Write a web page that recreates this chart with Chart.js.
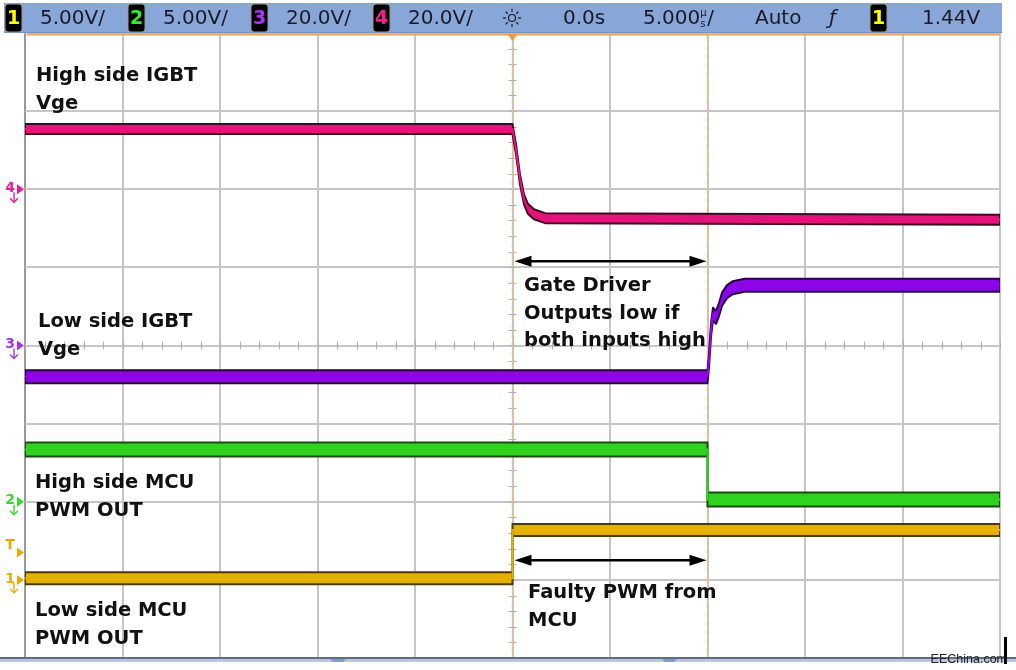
<!DOCTYPE html>
<html><head><meta charset="utf-8">
<script src="https://cdn.jsdelivr.net/npm/chart.js@4.4.1/dist/chart.umd.min.js"></script>
<style>html,body{margin:0;padding:0;background:#fff;}canvas{display:block;}</style>
</head><body>
<canvas id="c" width="1016" height="670"></canvas>
<script>
// ---- data (time in µs, amplitude in screen divisions from centre) ----
const ch4Time = [-25, 0, 0.18, 0.38, 0.59, 0.79, 1.1, 1.67, 25];
const ch4Vals = [2.77, 2.77, 2.51, 2.13, 1.87, 1.75, 1.68, 1.63, 1.61];
const ch3Time = [-25, 10, 10.08, 10.18, 10.28, 10.44, 10.59, 10.74, 11.0, 11.3, 11.9, 25];
const ch3Vals = [-0.40, -0.40, -0.18, 0.20, 0.40, 0.36, 0.46, 0.59, 0.69, 0.74, 0.77, 0.77];
const ch2Time = [-25, 10, 10, 25];
const ch2Vals = [-1.33, -1.33, -1.97, -1.97];
const ch1Time = [-25, 0, 0, 25];
const ch1Vals = [-2.98, -2.98, -2.36, -2.36];
const cursorTimes = [0, 10];
const xTickStep = 5;   // 5.000 µs/div
const headerItems = [
  {badge:'1', color:'#ffff00', text:'5.00V/'},
  {badge:'2', color:'#33ee22', text:'5.00V/'},
  {badge:'3', color:'#b030ff', text:'20.0V/'},
  {badge:'4', color:'#ff1a8c', text:'20.0V/'}
];
const annotations = [
  {lines:['High side IGBT','Vge'], x:36, y:81},
  {lines:['Low side IGBT','Vge'], x:38, y:327},
  {lines:['High side MCU','PWM OUT'], x:35, y:488},
  {lines:['Low side MCU','PWM OUT'], x:35, y:616},
  {lines:['Gate Driver','Outputs low if','both inputs high'], x:524, y:291},
  {lines:['Faulty PWM from','MCU'], x:528, y:598}
];
const arrowsDiv = [1.08, -2.75];
const chanMarkers = [
  {label:'4', color:'#f0199a', div:2.0, ground:true},
  {label:'3', color:'#a833ee', div:0.0, ground:true},
  {label:'2', color:'#33dd22', div:-2.0, ground:true},
  {label:'T', color:'#f0a800', div:-2.65, ground:false},
  {label:'1', color:'#f0a800', div:-3.0, ground:true}
];

function pts(t, v){ return t.map((x,i)=>({x:x, y:v[i]})); }

const FONT = '"DejaVu Sans", "Liberation Sans", Arial, sans-serif';

// draws the noise band of each trace (vertical thickness) around the library-computed points
const bandPlugin = {
  id:'band',
  beforeDatasetDraw(chart, args){
    const ds = chart.data.datasets[args.index];
    if(!ds.bandHalf) return;
    const ctx = chart.ctx, a = chart.chartArea, h = ds.bandHalf, P = args.meta.data;
    ctx.save();
    ctx.beginPath(); ctx.rect(a.left, a.top, a.right-a.left, a.bottom-a.top); ctx.clip();
    ctx.beginPath();
    P.forEach((p,i)=> i?ctx.lineTo(p.x,p.y-h):ctx.moveTo(p.x,p.y-h));
    for(let i=P.length-1;i>=0;i--) ctx.lineTo(P[i].x, P[i].y+h);
    ctx.closePath();
    ctx.fillStyle = ds.borderColor; ctx.fill();
    ctx.lineWidth = 2; ctx.strokeStyle = ds.edgeColor; ctx.lineJoin='round'; ctx.stroke();
    ctx.restore();
  }
};

const gridExtras = {
  id:'gridExtras',
  beforeDatasetsDraw(chart){
    const ctx = chart.ctx, xs = chart.scales.x, ys = chart.scales.y, a = chart.chartArea;
    ctx.save();
    ctx.strokeStyle = '#b0b0b0'; ctx.lineWidth = 1;
    const y0 = ys.getPixelForValue(0), x0 = xs.getPixelForValue(0);
    ctx.beginPath();
    for(let t=-25; t<=25; t+=1){ const px = Math.round(xs.getPixelForValue(t))+0.5; ctx.moveTo(px, y0-4); ctx.lineTo(px, y0+4); }
    for(let d=-4; d<=4; d+=0.2){ const py = Math.round(ys.getPixelForValue(d))+0.5; ctx.moveTo(x0-4, py); ctx.lineTo(x0+4, py); }
    ctx.stroke();
    ctx.strokeStyle = '#f2a35c'; ctx.lineWidth = 2;
    ctx.beginPath(); ctx.moveTo(a.left+2, a.top+1.5); ctx.lineTo(a.right, a.top+1.5); ctx.stroke();
    ctx.strokeStyle = '#f6b87c'; ctx.lineWidth = 1.5; ctx.setLineDash([5,4]);
    cursorTimes.forEach(t=>{ const px = xs.getPixelForValue(t); ctx.beginPath(); ctx.moveTo(px, a.top+3); ctx.lineTo(px, a.bottom); ctx.stroke(); });
    ctx.setLineDash([]);
    const tx = xs.getPixelForValue(0);
    ctx.fillStyle = '#f29a3a';
    ctx.beginPath(); ctx.moveTo(tx-5, a.top+1); ctx.lineTo(tx+5, a.top+1); ctx.lineTo(tx, a.top+8); ctx.closePath(); ctx.fill();
    ctx.restore();
  }
};

function roundRect(ctx,x,y,w,h,r){ ctx.beginPath(); ctx.moveTo(x+r,y); ctx.lineTo(x+w-r,y); ctx.quadraticCurveTo(x+w,y,x+w,y+r); ctx.lineTo(x+w,y+h-r); ctx.quadraticCurveTo(x+w,y+h,x+w-r,y+h); ctx.lineTo(x+r,y+h); ctx.quadraticCurveTo(x,y+h,x,y+h-r); ctx.lineTo(x,y+r); ctx.quadraticCurveTo(x,y,x+r,y); ctx.closePath(); }

function badge(ctx, x, label, color){
  roundRect(ctx, x, 4, 17, 28, 3);
  ctx.fillStyle = '#000'; ctx.fill();
  ctx.strokeStyle = '#9a9a9a'; ctx.lineWidth = 1; ctx.stroke();
  ctx.fillStyle = color; ctx.font = 'bold 19px ' + FONT;
  ctx.textAlign = 'center'; ctx.textBaseline = 'middle';
  ctx.fillText(label, x+8.5, 19);
  ctx.textAlign = 'left';
}

const overlay = {
  id:'overlay',
  afterDraw(chart){
    const ctx = chart.ctx, xs = chart.scales.x, ys = chart.scales.y, a = chart.chartArea;
    ctx.save();
    ctx.fillStyle = '#88a6d8'; ctx.fillRect(4, 3, 998, 30);
    ctx.fillStyle = '#7391c4'; ctx.fillRect(4, 32, 998, 1);
    const badgeX = [5, 128, 251, 373], textX = [40, 163, 286, 408];
    headerItems.forEach((h,i)=>{
      badge(ctx, badgeX[i], h.badge, h.color);
      ctx.fillStyle = '#1a1a26'; ctx.font = '20px ' + FONT; ctx.textBaseline = 'middle';
      ctx.fillText(h.text, textX[i], 19);
    });
    ctx.strokeStyle = '#1a1a26'; ctx.lineWidth = 1.2;
    ctx.beginPath(); ctx.arc(512, 18, 3.5, 0, Math.PI*2); ctx.stroke();
    for(let k=0;k<8;k++){ const ang=k*Math.PI/4; ctx.beginPath(); ctx.moveTo(512+6*Math.cos(ang),18+6*Math.sin(ang)); ctx.lineTo(512+9*Math.cos(ang),18+9*Math.sin(ang)); ctx.stroke(); }
    ctx.fillStyle = '#1a1a26'; ctx.font = '20px ' + FONT; ctx.textBaseline = 'middle';
    ctx.fillText('0.0s', 563, 19);
    ctx.fillText('5.000', 643, 19);
    const w5 = ctx.measureText('5.000').width;
    ctx.font = '10px ' + FONT; ctx.fillText('µ', 643+w5, 13); ctx.fillText('s', 643+w5, 24);
    ctx.font = '20px ' + FONT; ctx.fillText('/', 643+w5+7, 19);
    ctx.fillText('Auto', 755, 19);
    ctx.font = 'italic 20px ' + FONT; ctx.fillText('ƒ', 829, 19);
    badge(ctx, 870, '1', '#ffff00');
    ctx.fillStyle = '#1a1a26'; ctx.font = '20px ' + FONT; ctx.textBaseline = 'middle';
    ctx.fillText('1.44V', 922, 19);

    ctx.fillStyle = '#5d6d85'; ctx.fillRect(0, a.bottom-1, 1016, 2);
    ctx.fillStyle = '#bcc6d8'; ctx.fillRect(0, a.bottom+1, 1016, 3);
    ctx.fillStyle = '#7d9dd2';
    [[330,346],[662,677]].forEach(r=>{ ctx.beginPath(); ctx.moveTo(r[0], a.bottom+1); ctx.lineTo(r[1], a.bottom+1); ctx.lineTo(r[1]-3, a.bottom+4); ctx.lineTo(r[0]+3, a.bottom+4); ctx.closePath(); ctx.fill(); });

    ctx.fillStyle = '#222'; ctx.font = '12.5px "Liberation Sans", Arial, sans-serif'; ctx.textBaseline = 'alphabetic';
    ctx.textAlign = 'right';
    ctx.fillText('EEChina.com', 1007, 663);
    ctx.textAlign = 'left';
    ctx.fillStyle = '#000'; ctx.fillRect(1004, 637, 3, 27);

    chanMarkers.forEach(m=>{
      const py = ys.getPixelForValue(m.div);
      ctx.fillStyle = m.color; ctx.strokeStyle = m.color;
      ctx.font = 'bold 14px ' + FONT; ctx.textAlign = 'center'; ctx.textBaseline = 'middle';
      ctx.fillText(m.label, 10, m.label==='T' ? py-7 : py-1);
      ctx.beginPath(); ctx.moveTo(17, py-5); ctx.lineTo(24, py); ctx.lineTo(17, py+5); ctx.closePath(); ctx.fill();
      if(m.ground){
        ctx.lineWidth = 1.4;
        ctx.beginPath(); ctx.moveTo(14, py+3); ctx.lineTo(14, py+13); ctx.stroke();
        ctx.beginPath(); ctx.moveTo(10, py+9); ctx.lineTo(14, py+13); ctx.lineTo(18, py+9); ctx.stroke();
      }
      ctx.textAlign = 'left';
    });

    ctx.fillStyle = '#111'; ctx.font = 'bold 19.5px ' + FONT; ctx.textBaseline = 'alphabetic';
    annotations.forEach(an=>{ an.lines.forEach((l,i)=> ctx.fillText(l, an.x, an.y + i*27.5)); });

    const xl = xs.getPixelForValue(cursorTimes[0]) + 2, xr = xs.getPixelForValue(cursorTimes[1]) - 1;
    arrowsDiv.forEach(d=>{
      const py = ys.getPixelForValue(d);
      ctx.strokeStyle = '#000'; ctx.fillStyle = '#000'; ctx.lineWidth = 2.5;
      ctx.beginPath(); ctx.moveTo(xl+10, py); ctx.lineTo(xr-10, py); ctx.stroke();
      ctx.beginPath(); ctx.moveTo(xl, py); ctx.lineTo(xl+17, py-5.5); ctx.lineTo(xl+17, py+5.5); ctx.closePath(); ctx.fill();
      ctx.beginPath(); ctx.moveTo(xr, py); ctx.lineTo(xr-17, py-5.5); ctx.lineTo(xr-17, py+5.5); ctx.closePath(); ctx.fill();
    });
    ctx.restore();
  }
};

new Chart(document.getElementById('c'), {
  type:'line',
  data:{ datasets:[
    {label:'Ch1 Low side MCU PWM OUT', data:pts(ch1Time, ch1Vals), borderColor:'#e6b000', edgeColor:'#4d3a00', borderWidth:2, bandHalf:6},
    {label:'Ch2 High side MCU PWM OUT', data:pts(ch2Time, ch2Vals), borderColor:'#2fd21c', edgeColor:'#1c4a12', borderWidth:2, bandHalf:7},
    {label:'Ch3 Low side IGBT Vge', data:pts(ch3Time, ch3Vals), borderColor:'#8c06e8', edgeColor:'#2a0048', borderWidth:2, bandHalf:6.5},
    {label:'Ch4 High side IGBT Vge', data:pts(ch4Time, ch4Vals), borderColor:'#e5137c', edgeColor:'#3e0a20', borderWidth:2, bandHalf:5}
  ]},
  options:{
    responsive:false, animation:false, devicePixelRatio:1,
    layout:{padding:{left:25, right:16, top:33, bottom:12}},
    elements:{point:{radius:0}, line:{tension:0, borderCapStyle:'butt', borderJoinStyle:'miter'}},
    plugins:{legend:{display:false}, tooltip:{enabled:false}, title:{display:false}},
    scales:{
      x:{type:'linear', min:-25, max:25, ticks:{display:false, stepSize:xTickStep},
         grid:{drawTicks:false, lineWidth:2, color:(c)=> c.index===0 ? '#9a9a9a' : '#c6c6c6'}, border:{display:false}},
      y:{type:'linear', min:-4, max:4, ticks:{display:false, stepSize:1},
         grid:{drawTicks:false, lineWidth:2, color:'#c6c6c6'}, border:{display:false}}
    }
  },
  plugins:[gridExtras, bandPlugin, overlay]
});
</script>
</body></html>
